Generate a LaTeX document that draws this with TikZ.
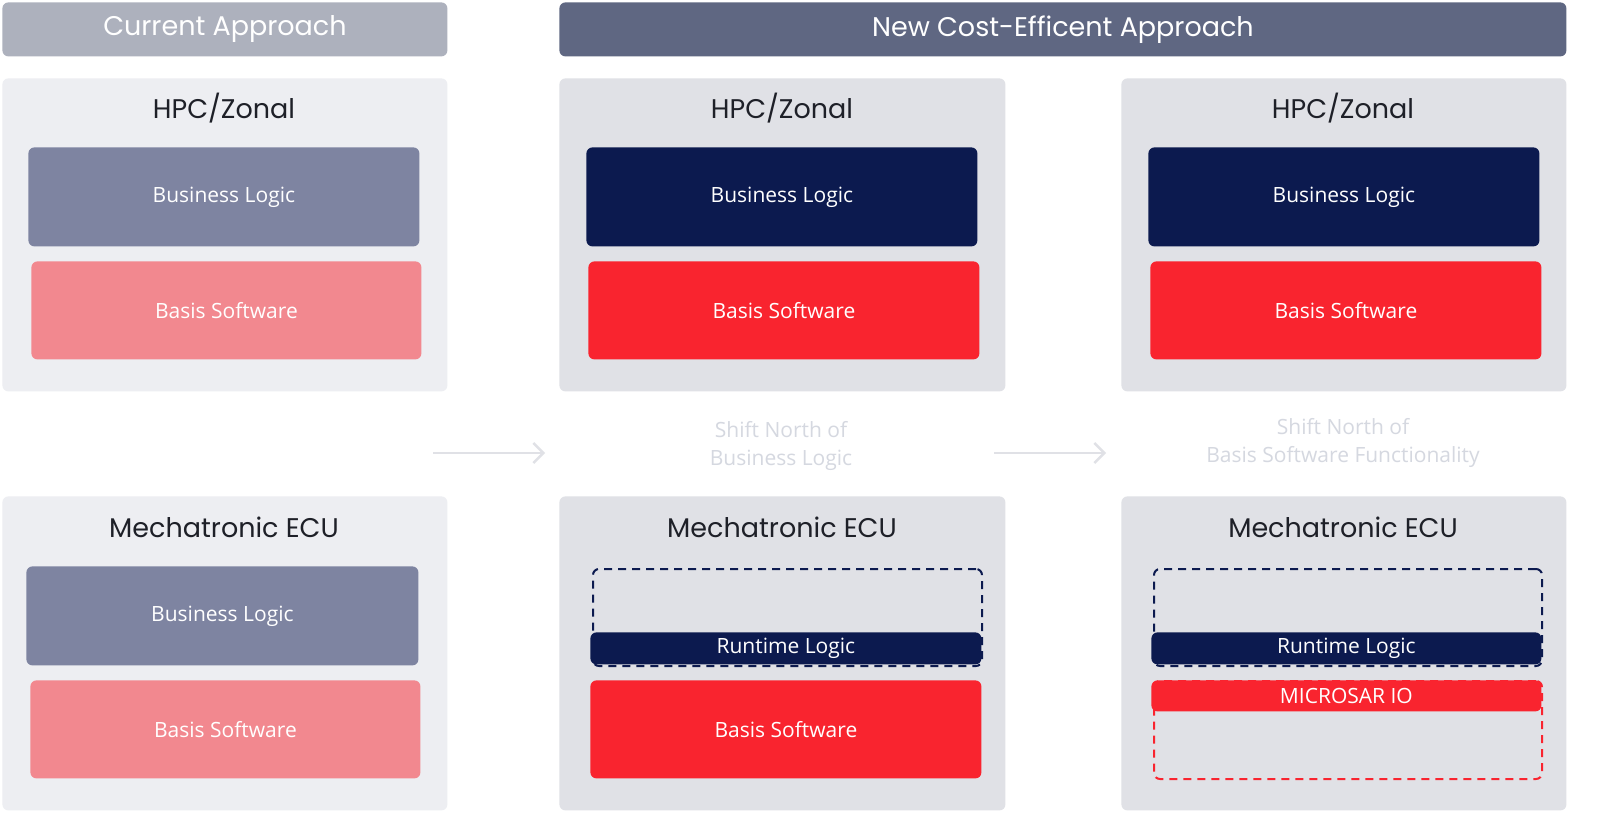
\documentclass[tikz,border=0pt]{standalone}
\usepackage{fontspec}
\setmainfont{Open Sans}
\newfontfamily\headfont{Poppins}
\usetikzlibrary{positioning,arrows.meta}
\definecolor{hdrA}{HTML}{ADB1BD}
\definecolor{hdrB}{HTML}{5F6782}
\definecolor{panA}{HTML}{EDEEF2}
\definecolor{panB}{HTML}{E0E1E6}
\definecolor{navy}{HTML}{0C1A4F}
\definecolor{navyL}{HTML}{7E84A1}
\definecolor{redD}{HTML}{F9242F}
\definecolor{redL}{HTML}{F2888F}
\definecolor{shift}{HTML}{D5D8E0}
\definecolor{ttl}{HTML}{1E2028}
\tikzset{
  box/.style args={#1/#2/#3/#4}{rectangle,rounded corners=3pt,inner sep=0pt,anchor=north west,minimum width=#3*0.5pt,minimum height=#4*0.5pt},
  hdr/.style={text=white,font=\headfont\fontsize{13.5}{15}\selectfont},
  ttlf/.style={text=ttl,font=\headfont\fontsize{13.5}{15}\selectfont},
  lbl/.style={text=white,font=\fontsize{10.5}{12}\selectfont},
  shiftt/.style={text=shift,align=center,font=\fontsize{10.5}{14}\selectfont},
  arr/.style={draw=panB,line width=1.2pt,-{Straight Barb[length=5pt,width=10pt]}},
}
\newcommand{\bx}[6]{\node[box=0/0/#4/#5,fill=#6] (#1) at (#2,#3) {};}
\begin{document}
\begin{tikzpicture}[x=0.5pt,y=-0.5pt]
\fill[white] (0,0) rectangle (1600,828);
% headers
\node[box=0/0/445/54,fill=hdrA,hdr] (h1) at (2,2) {Current Approach};
\node[box=0/0/1007/54,fill=hdrB,hdr] (h2) at (559,2) {New Cost-Efficent Approach};
% panels
\bx{p1}{2}{78}{445}{313}{panA}
\bx{p2}{559}{78}{446}{313}{panB}
\bx{p3}{1121}{78}{445}{313}{panB}
\bx{q1}{2}{496}{445}{314}{panA}
\bx{q2}{559}{496}{446}{314}{panB}
\bx{q3}{1121}{496}{445}{314}{panB}
\node[ttlf] (t1) at (224,108) {HPC/Zonal};
\node[ttlf] (t2) at (782,108) {HPC/Zonal};
\node[ttlf] (t3) at (1343,108) {HPC/Zonal};
\node[ttlf] (u1) at (224,527) {Mechatronic ECU};
\node[ttlf] (u2) at (782,527) {Mechatronic ECU};
\node[ttlf] (u3) at (1343,527) {Mechatronic ECU};
% top blocks
\node[box=0/0/391/99,fill=navyL,lbl] (bl1) at (28,147) {Business Logic};
\node[box=0/0/390/98,fill=redL,lbl] (bs1) at (31,261) {Basis Software};
\node[box=0/0/391/99,fill=navy,lbl] (bl2) at (586,147) {Business Logic};
\node[box=0/0/391/98,fill=redD,lbl] (bs2) at (588,261) {Basis Software};
\node[box=0/0/391/99,fill=navy,lbl] (bl3) at (1148,147) {Business Logic};
\node[box=0/0/391/98,fill=redD,lbl] (bs3) at (1150,261) {Basis Software};
% bottom left
\node[box=0/0/392/99,fill=navyL,lbl] (bl4) at (26,566) {Business Logic};
\node[box=0/0/390/98,fill=redL,lbl] (bs4) at (30,680) {Basis Software};
% bottom mid
\node[box=0/0/389/97,draw=navy,line width=1pt,dash pattern=on 4pt off 3pt] (d2) at (592,568) {};
\node[box=0/0/391/32,fill=navy,lbl] (rl2) at (590,632) {Runtime Logic};
\node[box=0/0/391/98,fill=redD,lbl] (bs5) at (590,680) {Basis Software};
% bottom right
\node[box=0/0/388/97,draw=navy,line width=1pt,dash pattern=on 4pt off 3pt] (d3) at (1153,568) {};
\node[box=0/0/388/98,draw=redD,line width=1pt,dash pattern=on 4pt off 3pt] (d4) at (1153,680) {};
\node[box=0/0/390/32,fill=navy,lbl] (rl3) at (1151,632) {Runtime Logic};
\node[box=0/0/390/31,fill=redD,lbl] (mio) at (1151,680) {MICROSAR IO};
% shift texts
\node[shiftt] (s1) at (781,446) {Shift North of\\Business Logic};
\node[shiftt] (s2) at (1343,443) {Shift North of\\Basis Software Functionality};
% arrows
\coordinate (a1s) at (433,453); \coordinate (a1e) at (545,453);
\coordinate (a2s) at (994,453); \coordinate (a2e) at (1106,453);
\draw[arr] (a1s) -- (a1e);
\draw[arr] (a2s) -- (a2e);
\pgfresetboundingbox
\useasboundingbox (0,0) rectangle (1600,828);
\end{tikzpicture}
\end{document}
